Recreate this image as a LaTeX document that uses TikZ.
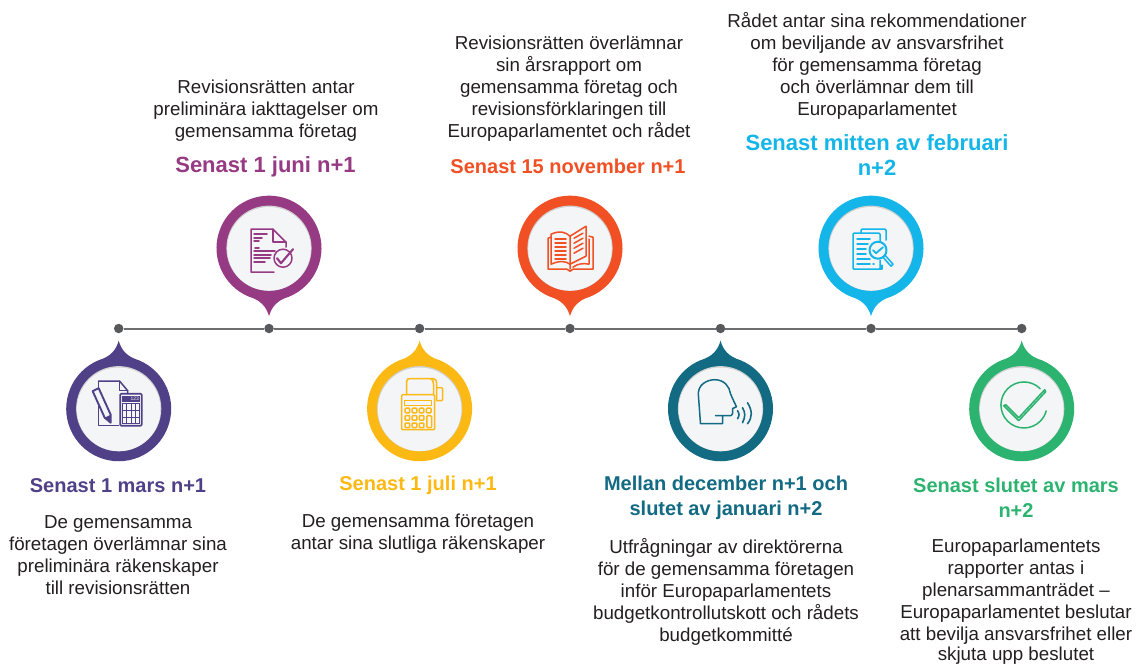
\documentclass[tikz,border=0pt]{standalone}
\usepackage{fontspec}
\setmainfont{Liberation Sans}
\definecolor{cA}{HTML}{4F4087}
\definecolor{cB}{HTML}{963A84}
\definecolor{cC}{HTML}{FDB913}
\definecolor{cD}{HTML}{F15025}
\definecolor{cE}{HTML}{136A83}
\definecolor{cF}{HTML}{14B5E8}
\definecolor{cG}{HTML}{2BB36F}
\definecolor{lineg}{HTML}{6D6E70}
\definecolor{dotg}{HTML}{58595B}
\definecolor{inner}{HTML}{F3F5F7}
\definecolor{txt}{HTML}{231F20}
\tikzset{
  x=1pt,y=-1pt,
  bodytext/.style={align=center,inner sep=0pt,text=txt,font=\fontsize{18.75}{22}\selectfont},
  headtext/.style={align=center,inner sep=0pt,font=\fontsize{20}{25}\selectfont\bfseries},
  bighead/.style={align=center,inner sep=0pt,font=\fontsize{22}{25}\selectfont\bfseries},
  dotnode/.style={circle,fill=dotg,minimum size=9.5pt,inner sep=0pt},
  ic/.style={line width=1.5pt,line join=round,line cap=round},
}
\newcommand{\pinshape}[4]{%
  \begin{scope}[shift={(#1,#2)},yscale=#4]
    \fill[#3] (0,68) .. controls (2.5,59) and (8,52) .. (20,48.5)
      arc[start angle=67.6,end angle=-247.6,radius=52.5]
      .. controls (-8,52) and (-2.5,59) .. cycle;
  \end{scope}
  \begin{scope}[shift={(#1,#2)}]
    \fill[black!18] (0,0) circle[radius=42.6];
    \fill[inner] (0,0.6) circle[radius=41.8];
  \end{scope}}
\begin{document}
\begin{tikzpicture}
\useasboundingbox (0,0) rectangle (1137,664);
% timeline
\node[dotnode] (d1) at (118.7,328.5) {};
\node[dotnode] (d2) at (269,328.5) {};
\node[dotnode] (d3) at (419.6,328.5) {};
\node[dotnode] (d4) at (570,328.5) {};
\node[dotnode] (d5) at (720.5,328.5) {};
\node[dotnode] (d6) at (871,328.5) {};
\node[dotnode] (d7) at (1021.7,328.5) {};
\draw[lineg,line width=2pt] (d1) -- (d2) -- (d3) -- (d4) -- (d5) -- (d6) -- (d7);
% pins
\pinshape{118.7}{408.7}{cA}{-1}
\pinshape{269}{248.2}{cB}{1}
\pinshape{419.6}{408.7}{cC}{-1}
\pinshape{570}{248.2}{cD}{1}
\pinshape{720.5}{408.7}{cE}{-1}
\pinshape{871}{248.2}{cF}{1}
\pinshape{1021.7}{408.7}{cG}{-1}
% icon 1: paper, pencil, calculator
\begin{scope}[shift={(118.7,408.7)},cA,ic]
  \draw (-20,-4) -- (-20,17) -- (0,17);
  \draw (-20,-27.5) -- (1,-27.5) -- (9,-18) -- (9,-16);
  \draw (1,-27.5) -- (1,-18) -- (9,-18);
  \draw (-20,-27.5) -- (-20,-21);
  \draw[line width=1.6pt,rounded corners=1pt] (1.5,-15) rectangle (23,17);
  \fill (3,-13) rectangle (21.5,-7);
  \node[inner sep=0pt,text=inner,font=\fontsize{5}{5}\selectfont] (calcnum) at (16,-10) {123};
  \fill (3,-6) rectangle (21.5,15.5);
  \foreach \i in {0,1,2,3} \foreach \j in {0,1,2}
    {\fill[inner] (4.2+\i*4.4,-4.5+\j*6.8) rectangle ++(3.3,5.6);}
  \draw[line width=1.9pt] (-26,-17.5) -- (-20,-20.5) -- (-8,6) -- (-8,14) -- (-14,9) -- cycle;
  \fill (-8,6) -- (-8,14) -- (-14,9) -- cycle;
\end{scope}
% icon 2: document with check
\begin{scope}[shift={(269,248.2)},cB,ic]
  \draw (5,24) -- (-18,24) -- (-18,-19) -- (4,-19) -- (17,-6) -- (17,-1);
  \draw (4,-19) -- (4,-6) -- (17,-6);
  \draw (-15,-14) -- (-2,-14) (-15,-10) -- (-7,-10) (-15,-7) -- (-10,-7);
  \draw (-14,0) -- (-10,0) (-15,3) -- (6,3) (-15,7) -- (2,7) (-15,10) -- (1,10) (-15,14) -- (-4,14);
  \draw (14,10) circle[radius=9];
  \draw[line width=2.1pt] (8,10) -- (12,15) -- (24,1);
\end{scope}
% icon 3: adding machine
\begin{scope}[shift={(419.6,408.7)},cC,ic]
  \draw (-13,-14) -- (-13,-27) .. controls (-13,-30) and (-11,-30) .. (-10,-30) -- (14,-30) .. controls (17,-30) and (17,-27) .. (17,-25) -- (17,-9);
  \draw (11,-30) .. controls (13,-30) and (14,-27) .. (14,-24) -- (14,-14);
  \draw[rounded corners=1pt] (17,-21) -- (23,-21) -- (23,-8) -- (17,-8);
  \draw[rounded corners=1pt] (-18,-14) rectangle (15,21);
  \draw (-15,-8) rectangle (12,-3);
  \foreach \i in {0,1,2} \foreach \j in {0,1,2}
    {\draw[rounded corners=0.8pt] (-14.5+\i*7.1,-0.5+\j*7.4) rectangle ++(4.6,4.6);}
  \draw[rounded corners=0.8pt] (6.8,-0.5) rectangle ++(4.6,4.6);
  \draw[rounded corners=1pt] (7.2,7) rectangle (12,19);
\end{scope}
% icon 4: book
\begin{scope}[shift={(570,248.2)},cD,ic]
  \draw (-19,-11) -- (-22,-10) -- (-22,21) -- (-3,21) -- (0,23) -- (3,21) -- (23,21) -- (23,-11) -- (19,-12);
  \draw (-19,-14) .. controls (-10,-18) and (-4,-16) .. (0,-12) -- (0,16) .. controls (-4,13) and (-10,12) .. (-19,16) -- cycle;
  \draw (0,-12) -- (16,-22) -- (16,8) -- (0,16);
  \draw (0,16) -- (0,21) (19,-9) -- (19,16) (3,19) .. controls (8,15) and (14,15) .. (19,16);
  \foreach \v in {-9,-5,-1,3,7,11}{\draw (-15,\v) -- (-4,\v);}
  \foreach \v in {-10,-5,0,5}{\draw (4,\v+0) -- (13,\v-5);}
\end{scope}
% icon 5: speaking head
\begin{scope}[shift={(720.5,408.7)},cE,ic]
  \draw (-20,15) -- (-22,-12) .. controls (-24,-25) and (-12,-29) .. (-6,-29) .. controls (4,-29) and (9,-22) .. (10,-15) .. controls (12,-10) and (14,-6) .. (16,-2) -- (12,0) -- (12,5) .. controls (12,7) and (10,7) .. (8,7) -- (-5,7) -- (2,7) -- (2,15) -- cycle;
  \draw[line width=1.6pt] (17,2) .. controls (19,5) and (19,7) .. (17,10);
  \draw[line width=1.6pt] (22,-1) .. controls (25,4) and (25,8) .. (22,14);
  \draw[line width=1.6pt] (27,-6) .. controls (32,2) and (32,9) .. (27,15);
\end{scope}
% icon 6: documents with magnifier
\begin{scope}[shift={(871,248.2)},cF,ic]
  \draw[rounded corners=1pt] (-10,-15) -- (-10,-19) -- (15,-19) -- (15,-8);
  \draw (11,17) -- (11,21) -- (9,21);
  \draw[rounded corners=1pt] (9,-6) -- (9,-15) -- (-18,-15) -- (-18,21) -- (9,21) -- (9,12);
  \draw (-14,-9) -- (-1,-9) (-14,-4) -- (-3,-4) (-14,1) -- (-5,1) (-14,6) -- (-5,6) (-14,11) -- (-1,11) (-14,16) -- (-1,16) (2,16) -- (3,16);
  \draw[line width=2pt] (7,2) circle[radius=8.5];
  \draw[line width=1.8pt] (2,2) -- (5,5) -- (12,-1);
  \draw (12,9) -- (20,18) -- (22,16) -- (14,7);
\end{scope}
% icon 7: check circle
\begin{scope}[shift={(1021.7,408.7)},cG,ic]
  \draw (18.5,-20) arc[start angle=-45,end angle=-345,radius=23] ;
  \draw (-16,-4) -- (-3,9) -- (23,-19) -- (24,-17) -- (-2,11) -- (-3,12) -- (-18,-3) -- cycle;
\end{scope}
% headings
\node[headtext,text=cA] (h1) at (118,485.5) {Senast 1 mars n+1};
\node[bighead,text=cB] (h2) at (265.5,167) {Senast 1 juni n+1};
\node[headtext,text=cC] (h3) at (418,485.5) {Senast 1 juli n+1};
\node[headtext,text=cD] (h4) at (568,166.5) {Senast 15 november n+1};
\node[headtext,text=cE] (h5) at (726,498.3) {Mellan december n+1 och\\slutet av januari n+2};
\node[bighead,text=cF] (h6) at (877,155) {Senast mitten av februari\\n+2};
\node[headtext,text=cG] (h7) at (1016,497.8) {Senast slutet av mars\\n+2};
% body text
\node[bodytext] (t1) at (118,555.5) {De gemensamma\\företagen överlämnar sina\\preliminära räkenskaper\\till revisionsrätten};
\node[bodytext] (t2) at (266,110.5) {Revisionsrätten antar\\preliminära iakttagelser om\\gemensamma företag};
\node[bodytext] (t3) at (418,533.5) {De gemensamma företagen\\antar sina slutliga räkenskaper};
\node[bodytext] (t4) at (569,89) {Revisionsrätten överlämnar\\sin årsrapport om\\gemensamma företag och\\revisionsförklaringen till\\Europaparlamentet och rådet};
\node[bodytext] (t5) at (726,591.5) {Utfrågningar av direktörerna\\för de gemensamma företagen\\inför Europaparlamentets\\budgetkontrollutskott och rådets\\budgetkommitté};
\node[bodytext] (t6) at (877,65.5) {Rådet antar sina rekommendationer\\om beviljande av ansvarsfrihet\\för gemensamma företag\\och överlämnar dem till\\Europaparlamentet};
\node[bodytext] (t7) at (1016,601.5) {Europaparlamentets\\rapporter antas i\\plenarsammanträdet –\\Europaparlamentet beslutar\\att bevilja ansvarsfrihet eller\\[-2.2pt]skjuta upp beslutet};
\end{tikzpicture}
\end{document}
